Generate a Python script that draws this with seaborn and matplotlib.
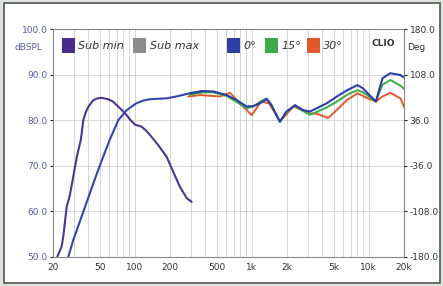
import numpy as np
import matplotlib
matplotlib.use("Agg")
import matplotlib.pyplot as plt
import matplotlib.ticker as mticker
from matplotlib.patches import Rectangle
import seaborn as sns

# Sub min (purple)
sub_min_f = [21.8, 23.0, 23.7, 24.5, 26.2, 27.9, 29.8, 32.0, 34.6, 36.3, 38.2, 40.2, 44.3, 48.0,
             52.0, 59.1, 65.0, 70.1, 77.0, 85.3, 92.0, 100.9, 114, 124, 134.5, 158, 187, 213,
             243, 278, 306]
sub_min_db = [50.1, 51.5, 52.3, 54.5, 61.0, 63.6, 67.6, 72.0, 75.7, 80.0, 81.8, 83.0, 84.4, 84.8,
              84.9, 84.6, 84.1, 83.3, 82.3, 81.1, 80.0, 79.0, 78.6, 77.8, 76.8, 74.6, 72.0, 68.7,
              65.4, 62.9, 62.1]

# Sub max (drawn in blue in the reference)
sub_max_f = [27, 29.8, 36.3, 44.3, 50.5, 61.1, 72.3, 85.3, 103, 118, 134.5, 187, 226, 296, 385]
sub_max_db = [50.0, 53.7, 59.9, 66.2, 70.2, 75.7, 80.0, 82.2, 83.7, 84.3, 84.6, 84.8, 85.2,
              85.9, 86.4]

# 0 deg
f0 = [296, 385, 470, 611, 742, 905, 1030, 1170, 1340, 1470, 1600, 1740, 1980, 2340, 2750, 3130,
      3580, 4370, 5340, 6550, 8000, 8900, 9800, 11500, 12300, 13100, 15300, 18600, 20600]
db0 = [85.9, 86.4, 86.3, 85.5, 84.4, 83.0, 83.1, 83.7, 84.6, 83.3, 81.5, 79.7, 81.9, 83.3, 82.2,
       81.9, 82.6, 83.7, 85.2, 86.6, 87.7, 87.0, 85.9, 84.1, 86.8, 89.2, 90.3, 89.9, 89.2]

# 15 deg
f15 = [296, 385, 470, 611, 742, 905, 1030, 1170, 1340, 1470, 1600, 1740, 1980, 2340, 2750, 3130,
       3580, 4370, 5340, 6550, 8000, 8900, 9800, 11500, 12300, 13100, 15300, 18600, 20600]
db15 = [85.6, 86.1, 86.1, 85.3, 84.0, 82.6, 83.0, 84.0, 84.8, 83.4, 81.4, 79.6, 81.8, 83.2, 82.0,
        81.2, 81.8, 82.8, 84.1, 85.6, 86.6, 86.1, 85.4, 84.1, 86.0, 87.8, 88.8, 87.6, 86.6]

# 30 deg
f30 = [286, 363, 535, 652, 790, 1000, 1200, 1400, 1560, 1740, 2270, 3100, 3600, 4500, 5300, 6500,
       8000, 9800, 11500, 13100, 15300, 18600, 20600]
db30 = [85.2, 85.5, 85.2, 86.0, 83.7, 81.1, 84.1, 83.7, 81.8, 79.7, 83.0, 81.5, 81.4, 80.5, 82.2,
        84.4, 85.9, 84.8, 84.1, 85.2, 86.0, 84.8, 82.2]

x_ticks = [20, 50, 100, 200, 500, 1000, 2000, 5000, 10000, 20000]
x_labels = ["20", "50", "100", "200", "500", "1k", "2k", "5k", "10k", "20k"]
y_ticks = [50, 60, 70, 80, 90, 100]
deg_ticks = [-180, -108, -36, 36, 108, 180]

legend_names = ["Sub min", "Sub max", "0°", "15°", "30°"]
legend_colors = ["#4a2a8a", "#8c8c8c", "#2b3fa6", "#3caa4a", "#e05a2a"]

sns.set_style("white")
plt.rcParams["font.family"] = ["DejaVu Sans"]

fig = plt.figure(figsize=(4.43, 2.86), dpi=100, facecolor="#dde4dd")
fig.patches.append(Rectangle((0.008, 0.01), 0.985, 0.98, transform=fig.transFigure,
                             facecolor="white", edgecolor="#555555", linewidth=1.2, zorder=-10))
ax = fig.add_axes([0.1196, 0.1014, 0.7924, 0.7972])
ax.set_facecolor("white")

sns.lineplot(x=sub_max_f, y=sub_max_db, ax=ax, color="#3346ac", linewidth=1.5, sort=False)
sns.lineplot(x=sub_min_f, y=sub_min_db, ax=ax, color="#4e3490", linewidth=1.5, sort=False)
sns.lineplot(x=f30, y=db30, ax=ax, color="#e05a2a", linewidth=1.4, sort=False)
sns.lineplot(x=f15, y=db15, ax=ax, color="#3caa4a", linewidth=1.4, sort=False)
sns.lineplot(x=f0, y=db0, ax=ax, color="#2b3fa6", linewidth=1.5, sort=False)

ax.set_xscale("log")
ax.set_xlim(20, 20000)
ax.set_ylim(50, 100)
ax.set_xticks(x_ticks)
ax.set_xticklabels(x_labels)
ax.xaxis.set_minor_formatter(mticker.NullFormatter())
ax.set_yticks(y_ticks)
ax.set_yticklabels([f"{v:.1f}" for v in y_ticks])
ax.grid(True, which="both", axis="x", color="#cfcfcf", linewidth=0.6)
ax.grid(True, which="major", axis="y", color="#cfcfcf", linewidth=0.6)
ax.tick_params(axis="x", labelsize=6.5, colors="#333333", length=2, pad=2)
ax.tick_params(axis="y", labelsize=6.5, labelcolor="#5a5aa8", length=2, pad=2)
for s in ax.spines.values():
    s.set_color("#888888")
    s.set_linewidth(0.8)

ax2 = ax.twinx()
ax2.set_ylim(-180, 180)
ax2.set_yticks(deg_ticks)
ax2.set_yticklabels([f"{v:.1f}" for v in deg_ticks])
ax2.tick_params(axis="y", labelsize=6.5, labelcolor="#333333", length=2, pad=2)
for s in ax2.spines.values():
    s.set_visible(False)

fig.text(0.065, 0.835, "dBSPL", fontsize=6.5, color="#5a5aa8", ha="center", va="center")
fig.text(0.918, 0.835, "Deg", fontsize=6.5, color="#333333", ha="left", va="center")
ax.text(0.975, 0.955, "CLIO", transform=ax.transAxes, fontsize=6.5, fontweight="bold",
        color="#333333", ha="right", va="top")

# legend row
leg_x = [0.025, 0.228, 0.495, 0.603, 0.723]
for name, col, lx in zip(legend_names, legend_colors, leg_x):
    ax.add_patch(Rectangle((lx, 0.895), 0.037, 0.065, transform=ax.transAxes,
                           facecolor=col, edgecolor="none", zorder=5))
    ax.text(lx + 0.047, 0.927, name, transform=ax.transAxes, fontsize=8, style="italic",
            color="#333333", ha="left", va="center", zorder=5)

fig.savefig("out.png", dpi=100, facecolor=fig.get_facecolor())
